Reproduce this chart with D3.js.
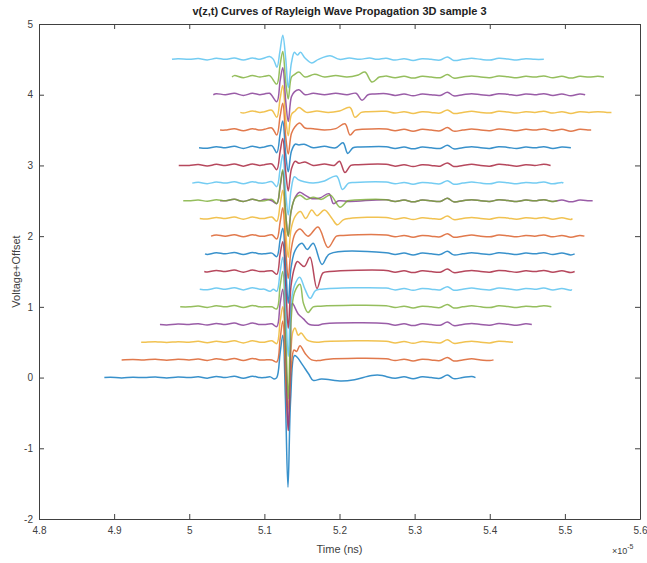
<!DOCTYPE html>
<html><head><meta charset="utf-8">
<script src="https://cdn.jsdelivr.net/npm/d3@7"></script>
<style>body{margin:0;background:#fff}text{font-family:"Liberation Sans",Arial,sans-serif}</style>
</head><body>
<svg id="c" width="647" height="563"></svg>
<script>
// ---------- data ----------
const titleText = "v(z,t) Curves of Rayleigh Wave Propagation 3D sample 3";
const xTicks = [4.8, 4.9, 5, 5.1, 5.2, 5.3, 5.4, 5.5, 5.6];
const yTicks = [-2, -1, 0, 1, 2, 3, 4, 5];
const offsets = [0, 0.25, 0.5, 0.75, 1, 1.25, 1.5, 1.75, 2, 2.25, 2.5, 2.5, 2.75, 3, 3.25, 3.5, 3.75, 4, 4.25, 4.5];
const startTimes = [4.887, 4.910, 4.936, 4.961, 4.988, 5.014, 5.020, 5.021, 5.029, 5.014, 5.041, 4.992, 5.004, 4.986, 5.013, 5.041, 5.068, 5.032, 5.057, 4.977];
const endTimes   = [5.381, 5.405, 5.431, 5.456, 5.482, 5.509, 5.513, 5.513, 5.526, 5.510, 5.537, 5.490, 5.498, 5.481, 5.508, 5.535, 5.562, 5.527, 5.552, 5.472];
// small common baseline ripple [time (1e-5 s), voltage]
const ripple = [
 [4.880,0.00],[4.895,0.005],[4.910,-0.005],[4.925,0.005],[4.940,0.00],[4.955,0.008],[4.970,-0.005],[4.985,0.008],
 [5.000,0.00],[5.012,0.012],[5.024,-0.008],[5.036,0.015],[5.048,0.00],[5.060,0.02],[5.072,-0.01],[5.084,0.02],
 [5.094,0.00],[5.262,0.015],[5.274,-0.01],[5.286,0.01],[5.298,-0.015],[5.310,0.01],
 [5.322,0.00],[5.334,-0.01],[5.3437,0.035],[5.352,-0.015],[5.364,0.00],[5.376,0.015],[5.388,0.00],[5.400,-0.01],
 [5.412,0.015],[5.424,0.005],[5.436,-0.01],[5.448,0.01],[5.460,0.00],[5.472,0.015],[5.484,-0.01],[5.496,0.01],
 [5.508,-0.015],[5.520,0.01],[5.532,0.00],[5.544,0.01],[5.556,0.00],[5.568,0.00]
];
// pulse + secondary arrival key points per trace [time, voltage relative to offset]
const pulses = [
 [[5.100,0.0],[5.108,0.01],[5.1128,-0.02],[5.1165,0.0],[5.1210,0.35],[5.1245,0.6],[5.1280,-0.3],[5.1314,-1.55],[5.1350,-0.3],[5.1400,0.31],[5.1434,0.29],[5.1501,0.19],[5.1590,0.05],[5.1650,-0.04],[5.1760,-0.02],[5.2030,-0.05],[5.2200,-0.03],[5.2430,0.03],[5.2570,0.03]],
 [[5.100,0.0],[5.110,0.0],[5.1165,-0.03],[5.1210,0.3],[5.1245,0.55],[5.1285,-0.3],[5.1318,-1.0],[5.1355,-0.15],[5.1394,0.14],[5.1430,0.12],[5.1474,0.20],[5.1550,0.08],[5.1630,0.0],[5.1720,-0.01],[5.1850,0.01]],
 [[5.100,0.0],[5.110,0.02],[5.1165,-0.02],[5.1210,0.3],[5.1245,0.5],[5.1285,-0.3],[5.1318,-0.95],[5.1355,-0.1],[5.1380,0.15],[5.1408,0.20],[5.1450,0.10],[5.1490,0.13],[5.1570,0.03],[5.1700,0.0],[5.1800,0.01]],
 [[5.100,0.0],[5.110,0.01],[5.1165,-0.03],[5.1210,0.3],[5.1245,0.5],[5.1285,-0.4],[5.1318,-1.5],[5.1350,-0.3],[5.1370,0.30],[5.1450,0.15],[5.1520,0.08],[5.1600,0.0],[5.1700,-0.01],[5.1800,0.01]],
 [[5.100,0.0],[5.110,0.0],[5.1165,-0.03],[5.1210,0.3],[5.1245,0.5],[5.1285,-0.4],[5.1318,-1.3],[5.1355,-0.2],[5.1400,0.2],[5.1474,0.32],[5.1520,0.05],[5.1581,-0.08],[5.1650,0.0],[5.1750,0.01]],
 [[5.100,0.0],[5.1075,-0.03],[5.1120,0.0],[5.1165,-0.03],[5.1210,0.25],[5.1245,0.45],[5.1285,-0.3],[5.1318,-0.95],[5.1355,-0.2],[5.1400,0.05],[5.1470,0.17],[5.1540,0.0],[5.1610,-0.13],[5.1680,-0.02],[5.1760,0.0]],
 [[5.100,0.0],[5.110,0.01],[5.1165,-0.04],[5.1210,0.25],[5.1245,0.42],[5.1285,-0.2],[5.1318,-0.8],[5.1355,-0.2],[5.1400,0.05],[5.1440,0.14],[5.1530,0.07],[5.1607,0.20],[5.1700,-0.24],[5.1780,-0.02],[5.1870,0.0]],
 [[5.100,0.0],[5.110,0.01],[5.1165,-0.04],[5.1210,0.2],[5.1245,0.36],[5.1285,-0.2],[5.1318,-0.7],[5.1355,-0.2],[5.1410,0.05],[5.1500,0.15],[5.1570,0.06],[5.1650,0.15],[5.1767,-0.15],[5.1870,0.0]],
 [[5.100,0.0],[5.110,0.02],[5.1165,-0.04],[5.1210,0.2],[5.1245,0.4],[5.1285,-0.2],[5.1318,-0.6],[5.1355,-0.2],[5.1410,0.04],[5.1474,0.10],[5.1581,0.0],[5.1714,0.13],[5.1847,-0.16],[5.1960,0.0],[5.2050,0.01]],
 [[5.100,0.0],[5.110,0.02],[5.1165,-0.04],[5.1210,0.2],[5.1245,0.4],[5.1285,-0.2],[5.1318,-0.55],[5.1355,-0.15],[5.1410,0.03],[5.1480,0.10],[5.1550,0.0],[5.1630,0.12],[5.1700,0.04],[5.1800,0.12],[5.1900,0.0],[5.1970,-0.09],[5.2050,-0.02],[5.2130,0.0]],
 [[5.100,0.02],[5.110,0.0],[5.1165,-0.04],[5.1210,0.2],[5.1245,0.42],[5.1285,-0.2],[5.1318,-0.5],[5.1355,-0.15],[5.1410,0.05],[5.1470,0.12],[5.1541,0.08],[5.1634,0.03],[5.1740,0.04],[5.1860,0.10],[5.1920,-0.04],[5.1990,0.0],[5.2140,-0.01]],
 [[5.100,0.0],[5.110,0.02],[5.1165,-0.04],[5.1210,0.22],[5.1245,0.44],[5.1285,-0.2],[5.1318,-0.5],[5.1355,-0.15],[5.1410,0.04],[5.1474,0.08],[5.1560,0.02],[5.1650,0.05],[5.1760,0.02],[5.1880,0.08],[5.2007,-0.09],[5.2110,0.0],[5.2200,0.01]],
 [[5.100,0.0],[5.110,0.02],[5.1165,-0.05],[5.1210,0.2],[5.1245,0.4],[5.1285,-0.15],[5.1318,-0.45],[5.1355,-0.1],[5.1400,0.09],[5.1450,0.05],[5.1530,0.02],[5.1650,0.0],[5.1800,0.03],[5.1960,0.10],[5.2040,-0.09],[5.2120,0.0],[5.2200,0.01]],
 [[5.100,0.01],[5.110,0.02],[5.1165,-0.06],[5.1210,0.2],[5.1245,0.38],[5.1285,-0.1],[5.1318,-0.36],[5.1360,-0.05],[5.1410,0.06],[5.1460,0.03],[5.1540,0.05],[5.1650,0.0],[5.1800,0.02],[5.1930,0.0],[5.2000,0.06],[5.2073,-0.10],[5.2150,0.0],[5.2250,0.01]],
 [[5.100,0.01],[5.110,0.03],[5.1165,-0.07],[5.1210,0.2],[5.1245,0.38],[5.1285,-0.1],[5.1318,-0.34],[5.1360,-0.05],[5.1410,0.05],[5.1460,0.04],[5.1530,0.05],[5.1650,0.0],[5.1800,0.02],[5.1950,0.0],[5.2047,0.07],[5.2110,-0.08],[5.2180,0.0],[5.2280,0.01]],
 [[5.100,0.01],[5.110,0.03],[5.1165,-0.07],[5.1210,0.2],[5.1245,0.38],[5.1285,-0.1],[5.1318,-0.34],[5.1360,-0.05],[5.1410,0.05],[5.1470,0.10],[5.1541,0.03],[5.1650,0.02],[5.1800,0.0],[5.1950,0.02],[5.2073,0.09],[5.2140,-0.07],[5.2210,0.0],[5.2300,0.01]],
 [[5.100,0.01],[5.110,0.03],[5.1165,-0.07],[5.1210,0.2],[5.1245,0.38],[5.1285,-0.1],[5.1318,-0.33],[5.1360,-0.03],[5.1410,0.02],[5.1460,0.07],[5.1560,0.0],[5.1700,0.02],[5.1850,0.0],[5.2000,0.02],[5.2140,0.07],[5.2206,-0.07],[5.2290,0.0],[5.2380,0.01]],
 [[5.100,0.01],[5.107,0.02],[5.1165,-0.10],[5.1210,0.2],[5.1245,0.38],[5.1285,-0.1],[5.1318,-0.38],[5.1360,-0.03],[5.1400,0.04],[5.1460,0.07],[5.1541,0.0],[5.1650,0.02],[5.1800,0.0],[5.1950,0.02],[5.2100,0.0],[5.2220,0.02],[5.2300,-0.08],[5.2380,0.0],[5.2460,0.01]],
 [[5.100,0.01],[5.107,0.02],[5.1165,-0.10],[5.1210,0.18],[5.1245,0.36],[5.1285,-0.08],[5.1318,-0.31],[5.1360,0.0],[5.1394,0.03],[5.1460,0.07],[5.1541,0.0],[5.1670,0.04],[5.1800,0.0],[5.1950,0.02],[5.2100,0.0],[5.2250,0.03],[5.2339,0.07],[5.2433,-0.07],[5.2530,0.0],[5.2600,0.01]],
 [[5.100,0.02],[5.107,0.04],[5.112,0.0],[5.1168,-0.11],[5.1205,0.1],[5.1245,0.34],[5.1285,0.0],[5.1318,-0.40],[5.1360,-0.05],[5.1400,0.10],[5.1440,0.06],[5.1480,0.10],[5.1541,0.02],[5.1630,-0.05],[5.1720,0.0],[5.1874,0.05],[5.2000,0.0],[5.2130,0.02],[5.2270,0.0],[5.2400,0.02],[5.2500,0.0]]
];
// ---------- style ----------
const palette = ["#0072BD","#D95319","#EDB120","#7E2F8E","#77AC30","#4DBEEE","#A2142F"];
const L = 39, R = 640, T = 24, B = 519;

const svg = d3.select("#c");
const x = d3.scaleLinear().domain([4.8, 5.6]).range([L, R]);
const y = d3.scaleLinear().domain([-2, 5]).range([B, T]);

// traces
const line = d3.line().x(d => x(d[0])).y(d => y(d[1])).curve(d3.curveCatmullRom.alpha(0.5));
const gLines = svg.append("g");
offsets.forEach((off, i) => {
  const p = pulses[i];
  const p0 = p[0][0], p1 = p[p.length - 1][0];
  const s = startTimes[i], e = endTimes[i];
  let pts = ripple.filter(r => r[0] > s && r[0] < e && (r[0] < p0 || r[0] > p1));
  pts = pts.concat(p.filter(r => r[0] > s && r[0] < e));
  pts.push([s, 0], [e, 0]);
  pts.sort((a, b) => a[0] - b[0]);
  gLines.append("path")
    .attr("d", line(pts.map(d => [d[0], d[1] + off])))
    .attr("fill", "none")
    .attr("stroke", palette[i % palette.length])
    .attr("stroke-width", 1.5)
    .attr("stroke-opacity", 0.78)
    .attr("stroke-linejoin", "round");
});

// axes
const axCol = "#404040";
function style(g) {
  g.selectAll("path.domain").attr("stroke", axCol).attr("stroke-width", 1);
  g.selectAll(".tick line").attr("stroke", axCol);
  g.selectAll(".tick text").attr("fill", axCol).style("font-size", "10px").style("font-family", '"Liberation Sans",Arial,sans-serif');
}
svg.append("g").attr("transform", `translate(0,${B})`)
  .call(d3.axisBottom(x).tickValues(xTicks).tickSize(-5).tickSizeOuter(0).tickPadding(8).tickFormat(d => String(d)))
  .call(style);
svg.append("g").attr("transform", `translate(0,${T})`)
  .call(d3.axisTop(x).tickValues(xTicks).tickSize(-5).tickSizeOuter(0).tickFormat(""))
  .call(style);
svg.append("g").attr("transform", `translate(${L},0)`)
  .call(d3.axisLeft(y).tickValues(yTicks).tickSize(-5).tickSizeOuter(0).tickPadding(6).tickFormat(d => String(d)))
  .call(style);
svg.append("g").attr("transform", `translate(${R},0)`)
  .call(d3.axisRight(y).tickValues(yTicks).tickSize(-5).tickSizeOuter(0).tickFormat(""))
  .call(style);

// title & labels
svg.append("text").attr("x", (L + R) / 2).attr("y", 15).attr("text-anchor", "middle")
  .attr("font-weight", "bold").attr("font-size", 11).attr("fill", "#222").text(titleText);
svg.append("text").attr("x", (L + R) / 2).attr("y", 553).attr("text-anchor", "middle")
  .attr("font-size", 11).attr("fill", axCol).text("Time (ns)");
svg.append("text").attr("transform", `translate(20,${(T + B) / 2}) rotate(-90)`).attr("text-anchor", "middle")
  .attr("font-size", 11).attr("fill", axCol).text("Voltage+Offset");
const ex = svg.append("text").attr("x", 612).attr("y", 554).attr("font-size", 9).attr("fill", axCol);
ex.append("tspan").text("×10");
ex.append("tspan").attr("dy", -5).attr("font-size", 7).text("-5");
</script>
</body></html>
